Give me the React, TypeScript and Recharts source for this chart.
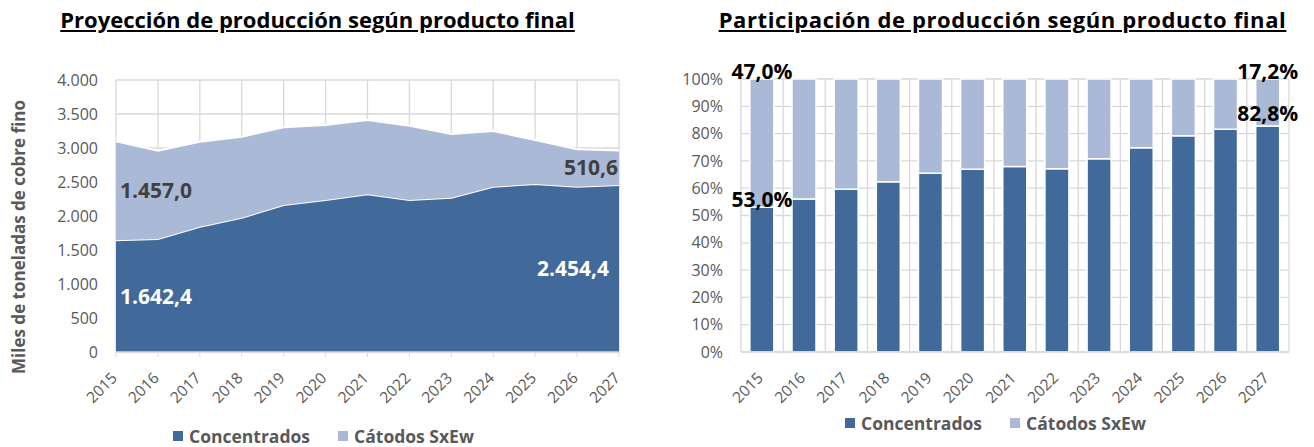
import React from 'react';
import {
  ComposedChart, Area, Line, XAxis, YAxis, CartesianGrid, LabelList, BarChart, Bar,
} from 'recharts';

const years = ['2015', '2016', '2017', '2018', '2019', '2020', '2021', '2022', '2023', '2024', '2025', '2026', '2027'];
const concentrados = [1642.4, 1660, 1843, 1975, 2162, 2235, 2319, 2235, 2270, 2431, 2470, 2431, 2454.4];
const catodos = [1457.0, 1301, 1250, 1192, 1142, 1103, 1093, 1093, 936, 819, 648, 549, 510.6];
const volumeTicks = [0, 500, 1000, 1500, 2000, 2500, 3000, 3500, 4000];
const shareTicks = [0, 0.1, 0.2, 0.3, 0.4, 0.5, 0.6, 0.7, 0.8, 0.9, 1];
const seriesNames = ['Concentrados', 'Cátodos SxEw'];
const titles = ['Proyección de producción según producto final', 'Participación de producción según producto final'];
const yAxisTitle = 'Miles de toneladas de cobre fino';

const DARK = '#416999';
const LIGHT = '#AAB9D6';
const GRID = '#D9D9D9';
const TICK = '#595959';
const FONT = '"Open Sans", sans-serif';

const data = years.map((year, i) => ({ year, conc: concentrados[i], cat: catodos[i] }));
const lastIdx = years.length - 1;

function fmtEs(v: number, dec: number): string {
  const [intPart, decPart] = v.toFixed(dec).split('.');
  const withDots = intPart.replace(/\B(?=(\d{3})+(?!\d))/g, '.');
  return decPart ? `${withDots},${decPart}` : withDots;
}

const RotTick = (props: any) => {
  const { x, y, payload, lift } = props;
  return (
    <g transform={`translate(${x + 2},${y + (lift ?? 19)})`}>
      <text transform="rotate(-45)" textAnchor="end" fill={TICK} fontSize={15.5} fontFamily={FONT}>
        {payload.value}
      </text>
    </g>
  );
};

const makeAreaLabel = (values: number[], fill: string, endShift: number) => (props: any) => {
  const { x, y, index } = props;
  if (index !== 0 && index !== lastIdx) return null;
  const isFirst = index === 0;
  return (
    <text
      x={isFirst ? x + 4 : x - endShift}
      y={y}
      dy="0.36em"
      textAnchor={isFirst ? 'start' : 'end'}
      fill={fill}
      fontSize={21}
      fontWeight={700}
      fontFamily={FONT}
    >
      {fmtEs(values[index], 1)}
    </text>
  );
};

const makeBarLabel = (values: number[], totals: number[], lift: number[]) => (props: any) => {
  const { x, y, width, index } = props;
  if (index !== 0 && index !== lastIdx) return null;
  const pct = (values[index] / totals[index]) * 100;
  return (
    <text
      x={x + width / 2}
      y={y - (index === 0 ? lift[0] : lift[1])}
      dy="0.36em"
      textAnchor="middle"
      fill="#000"
      fontSize={21}
      fontWeight={700}
      fontFamily={FONT}
    >
      {`${pct.toFixed(1).replace('.', ',')}%`}
    </text>
  );
};

const totals = years.map((_, i) => concentrados[i] + catodos[i]);

const LegendBox = ({ left, centerY }: { left: number; centerY: number }) => (
  <div style={{ position: 'absolute', left, top: centerY - 10, height: 20, lineHeight: '20px', display: 'flex', alignItems: 'center', fontFamily: FONT, fontWeight: 700, fontSize: 17.5, color: TICK, whiteSpace: 'nowrap' }}>
    {seriesNames.map((name, i) => (
      <div key={name} style={{ display: 'flex', alignItems: 'center', marginRight: i === 0 ? 28 : 0 }}>
        <div style={{ width: 10, height: 10, background: i === 0 ? DARK : LIGHT, marginRight: 6 }} />
        <span>{name}</span>
      </div>
    ))}
  </div>
);

const Title = ({ text, center, spacing }: { text: string; center: number; spacing: number }) => (
  <div style={{ position: 'absolute', left: center - 330, width: 660, top: 4, lineHeight: '30px', textAlign: 'center', fontFamily: FONT, fontWeight: 700, fontSize: 22, letterSpacing: spacing, color: '#000', textDecoration: 'underline', whiteSpace: 'nowrap' }}>
    {text}
  </div>
);

export default function App() {
  return (
    <div style={{ position: 'absolute', left: 0, top: 0, width: 1314, height: 447, background: '#fff', overflow: 'hidden' }}>
      <Title text={titles[0]} center={317.5} spacing={0} />
      <Title text={titles[1]} center={1002.5} spacing={0.6} />

      <div style={{ position: 'absolute', left: 18, top: 237, transform: 'translate(-50%, -50%) rotate(-90deg)', fontFamily: FONT, fontWeight: 700, fontSize: 17, color: TICK, whiteSpace: 'nowrap' }}>
        {yAxisTitle}
      </div>

      <div style={{ position: 'absolute', left: 0, top: 0 }}>
        <ComposedChart width={640} height={447} data={data} margin={{ top: 80, right: 21, bottom: 0, left: 56 }}>
          <CartesianGrid stroke={GRID} strokeWidth={1.3} vertical horizontal />
          <XAxis dataKey="year" scale="point" padding={{ left: 0, right: 0 }} axisLine={{ stroke: GRID, strokeWidth: 1.3 }} tickLine={{ stroke: GRID }} tickSize={5} tick={<RotTick lift={20} />} interval={0} height={95} />
          <YAxis type="number" domain={[0, 4000]} ticks={volumeTicks} tickFormatter={(v: number) => fmtEs(v, 0)} axisLine={false} tickLine={false} tickSize={6} tickMargin={12} width={60} tick={{ fill: TICK, fontSize: 16, fontFamily: FONT }} interval={0} />
          <Area type="linear" dataKey="conc" stackId="v" fill={DARK} fillOpacity={1} stroke="#fff" strokeWidth={2} isAnimationActive={false} />
          <Area type="linear" dataKey="cat" stackId="v" fill={LIGHT} fillOpacity={1} stroke="#fff" strokeWidth={2} isAnimationActive={false} />
          <Line dataKey={(d: any) => d.conc / 2} stroke="none" dot={false} activeDot={false} isAnimationActive={false}>
            <LabelList content={makeAreaLabel(concentrados, '#fff', 10)} />
          </Line>
          <Line dataKey={(d: any) => d.conc + d.cat / 2} stroke="none" dot={false} activeDot={false} isAnimationActive={false}>
            <LabelList content={makeAreaLabel(catodos, '#404040', 1)} />
          </Line>
        </ComposedChart>
      </div>

      <div style={{ position: 'absolute', left: 650, top: 0 }}>
        <BarChart width={664} height={447} data={data} stackOffset="expand" barCategoryGap="21%" margin={{ top: 79, right: 25, bottom: 0, left: 31 }}>
          <CartesianGrid
            stroke={GRID}
            strokeWidth={1.3}
            horizontal
            vertical
            verticalCoordinatesGenerator={(p: any) => years.map((_, i) => p.offset.left + (i * p.offset.width) / years.length).concat([p.offset.left + p.offset.width])}
          />
          <XAxis dataKey="year" axisLine={{ stroke: GRID, strokeWidth: 1.3 }} tickLine={false} tickSize={0} tick={<RotTick lift={25} />} interval={0} height={95} />
          <YAxis type="number" domain={[0, 1]} ticks={shareTicks} tickFormatter={(v: number) => `${Math.round(v * 100)}%`} axisLine={false} tickLine={false} tickSize={6} tickMargin={12} width={60} tick={{ fill: TICK, fontSize: 16, fontFamily: FONT }} interval={0} />
          <Bar dataKey="conc" stackId="s" fill={DARK} stroke="#fff" strokeWidth={1.5} isAnimationActive={false}>
            <LabelList content={makeBarLabel(concentrados, totals, [8, 13])} />
          </Bar>
          <Bar dataKey="cat" stackId="s" fill={LIGHT} stroke="#fff" strokeWidth={1.5} isAnimationActive={false}>
            <LabelList content={makeBarLabel(catodos, totals, [8, 8])} />
          </Bar>
        </BarChart>
      </div>

      <LegendBox left={173} centerY={436} />
      <LegendBox left={845} centerY={423} />
    </div>
  );
}
